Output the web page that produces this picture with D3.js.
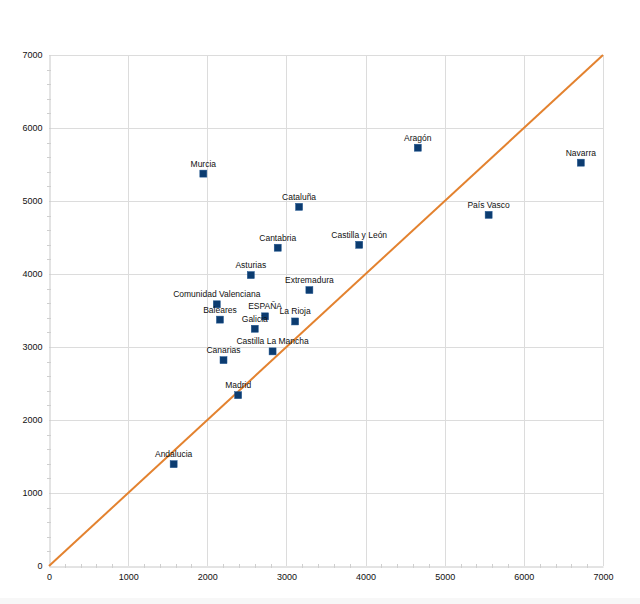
<!DOCTYPE html>
<html>
<head>
<meta charset="utf-8">
<script src="https://cdn.jsdelivr.net/npm/d3@7"></script>
<style>
  html, body { margin: 0; padding: 0; background: #fff; }
  svg { display: block; font-family: "Liberation Sans", Arial, sans-serif; }
  .tick text { font-size: 9px; fill: #111; }
  .pt-label { font-size: 8.5px; fill: #111; }
</style>
</head>
<body>
<svg id="chart" width="640" height="604"></svg>
<script>
  const regions = [
    "Murcia", "Cataluña", "Cantabria", "Castilla y León", "Aragón", "Navarra",
    "País Vasco", "Asturias", "Extremadura", "Comunidad Valenciana", "ESPAÑA",
    "Baleares", "La Rioja", "Galicia", "Castilla La Mancha", "Canarias",
    "Madrid", "Andalucia"
  ];
  const xValues = [1950, 3160, 2890, 3920, 4660, 6720, 5555, 2550, 3290, 2120, 2730, 2160, 3110, 2600, 2825, 2205, 2390, 1575];
  const yValues = [5375, 4920, 4360, 4400, 5730, 5525, 4810, 3985, 3780, 3585, 3420, 3375, 3350, 3250, 2940, 2820, 2340, 1395];
  const majorTicks = [0, 1000, 2000, 3000, 4000, 5000, 6000, 7000];
  const diagonal = [0, 7000];

  (function () {
    const points = regions.map((name, i) => ({ name, x: xValues[i], y: yValues[i] }));

    const svg = d3.select("#chart");
    const left = 49, right = 603, top = 55, bottom = 566;

    const x = d3.scaleLinear().domain([0, 7000]).range([left, right]);
    const y = d3.scaleLinear().domain([0, 7000]).range([bottom, top]);

    // light band at bottom of the picture
    svg.append("rect")
      .attr("x", 0).attr("y", 598).attr("width", 640).attr("height", 6)
      .attr("fill", "#f7f7f7");

    // grid
    const grid = svg.append("g").attr("stroke", "#dcdcdc").attr("stroke-width", 1);
    grid.selectAll("line.v").data(majorTicks.slice(1)).join("line")
      .attr("class", "v")
      .attr("x1", (d) => Math.round(x(d)) + 0.5).attr("x2", (d) => Math.round(x(d)) + 0.5)
      .attr("y1", top).attr("y2", bottom);
    grid.selectAll("line.h").data(majorTicks.slice(1)).join("line")
      .attr("class", "h")
      .attr("y1", (d) => Math.round(y(d)) + 0.5).attr("y2", (d) => Math.round(y(d)) + 0.5)
      .attr("x1", left).attr("x2", right);

    // axes
    const xAxis = svg.append("g")
      .attr("transform", "translate(0," + (bottom + 0.5) + ")")
      .call(d3.axisBottom(x).tickValues(majorTicks).tickSize(0).tickPadding(7).tickFormat(d3.format("d")));
    const yAxis = svg.append("g")
      .attr("transform", "translate(" + (left + 0.5) + ",0)")
      .call(d3.axisLeft(y).tickValues(majorTicks).tickSize(0).tickPadding(7).tickFormat(d3.format("d")));
    [xAxis, yAxis].forEach((a) => {
      a.select(".domain").attr("stroke", "#c8c8c8");
      a.selectAll(".tick line").remove();
    });

    // minor ticks
    const minor = d3.range(200, 7000, 200).filter((d) => d % 1000 !== 0);
    svg.append("g").attr("stroke", "#cfcfcf")
      .selectAll("line").data(minor).join("line")
      .attr("x1", (d) => Math.round(x(d)) + 0.5).attr("x2", (d) => Math.round(x(d)) + 0.5)
      .attr("y1", bottom - 2).attr("y2", bottom + 2);
    svg.append("g").attr("stroke", "#cfcfcf")
      .selectAll("line").data(minor).join("line")
      .attr("y1", (d) => Math.round(y(d)) + 0.5).attr("y2", (d) => Math.round(y(d)) + 0.5)
      .attr("x1", left - 2).attr("x2", left + 2);

    // diagonal reference line
    svg.append("line")
      .attr("x1", x(diagonal[0])).attr("y1", y(diagonal[0]))
      .attr("x2", x(diagonal[1])).attr("y2", y(diagonal[1]))
      .attr("stroke", "#e3822f").attr("stroke-width", 2);

    // points
    svg.append("g").selectAll("rect").data(points).join("rect")
      .attr("x", (d) => x(d.x) - 3.5).attr("y", (d) => y(d.y) - 3.5)
      .attr("width", 7).attr("height", 7)
      .attr("fill", "#0c3c70").attr("stroke", "#1e5590").attr("stroke-width", 0.5);

    // labels
    svg.append("g").selectAll("text").data(points).join("text")
      .attr("class", "pt-label")
      .attr("x", (d) => x(d.x)).attr("y", (d) => y(d.y) - 7)
      .attr("text-anchor", "middle")
      .text((d) => d.name);
  })();
</script>
</body>
</html>
